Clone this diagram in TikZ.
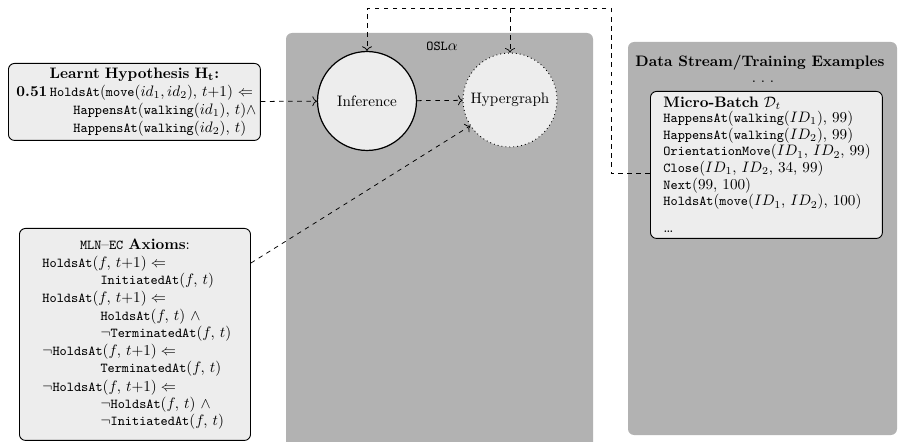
\documentclass[tikz,border=0pt]{standalone}
\usepackage{amsmath,amssymb}
\usetikzlibrary{calc,arrows.meta}

% predicate names in a slightly smaller typewriter face
\newcommand{\pr}[1]{{\fontsize{9}{10}\selectfont\ttfamily #1}}

\begin{document}
\begin{tikzpicture}[x=0.66pt,y=-0.66pt,
  panel/.style={fill=black!30, rounded corners=4pt},
  textbox/.style={draw, semithick, fill=black!7, rounded corners=4pt,
    align=left, anchor=north west, inner ysep=0pt},
  stage/.style={circle, draw, fill=black!7, inner sep=0pt},
  flow/.style={dashed, line width=0.5pt, -{To[length=3pt,width=6.5pt]}}
]
\useasboundingbox (0,0) rectangle (898,442);

% background panels
\fill[panel] (286,33) rectangle (593,470);
\fill[panel] (628,42) rectangle (897,435);

\node (osl) at (442,46) {\pr{OSL}$\alpha$};
\node[anchor=base, inner sep=0pt] (dstitle) at (760,67) {\textbf{Data Stream/Training Examples}};
\node[anchor=base, inner sep=0pt] (dsdots) at (763,82.5) {.\hspace{3.2pt}.\hspace{3.2pt}.};

% learnt hypothesis
\node[textbox, minimum width=166.3pt, minimum height=50.8pt, text width=155.7pt,
      inner xsep=5.3pt, font=\fontsize{10}{11.9}\selectfont] (hyp) at (8,63) {%
\makebox[\hsize]{\textbf{Learnt Hypothesis $\mathbf{H_t}$:}}\\
\mbox{\textbf{0.51}\,\pr{HoldsAt}(\pr{move}($id_1, id_2$), $t{+}1$) $\Leftarrow$}\\
\mbox{\hspace*{37.6pt}\pr{HappensAt}(\pr{walking}($id_1$), $t$)$\wedge$}\\
\mbox{\hspace*{37.6pt}\pr{HappensAt}(\pr{walking}($id_2$), $t$)}};

% event calculus axioms
\node[textbox, minimum width=152.5pt, minimum height=139.9pt, text width=122.1pt,
      inner xsep=15.2pt, font=\fontsize{10}{11.4}\selectfont] (axioms) at (19,228) {%
\makebox[\hsize]{\pr{MLN}--\pr{EC} \textbf{Axioms}:}\\
\mbox{\pr{HoldsAt}$(f,\, t{+}1) \Leftarrow$}\\
\mbox{\hspace*{38.3pt}\pr{InitiatedAt}$(f,\, t)$}\\[0.7pt]
\mbox{\pr{HoldsAt}$(f,\, t{+}1) \Leftarrow$}\\
\mbox{\hspace*{38.3pt}\pr{HoldsAt}$(f,\, t)\ \wedge$}\\
\mbox{\hspace*{38.3pt}$\neg$\pr{TerminatedAt}$(f,\, t)$}\\[0.7pt]
\mbox{$\neg$\pr{HoldsAt}$(f,\, t{+}1) \Leftarrow$}\\
\mbox{\hspace*{38.3pt}\pr{TerminatedAt}$(f,\, t)$}\\[0.7pt]
\mbox{$\neg$\pr{HoldsAt}$(f,\, t{+}1) \Leftarrow$}\\
\mbox{\hspace*{38.3pt}$\neg$\pr{HoldsAt}$(f,\, t)\ \wedge$}\\
\mbox{\hspace*{38.3pt}$\neg$\pr{InitiatedAt}$(f,\, t)$}};

% micro-batch of training data
\node[textbox, minimum width=153.1pt, minimum height=97pt, text width=135.9pt,
      inner xsep=8.6pt, font=\fontsize{10}{9.9}\selectfont] (micro) at (650,91) {%
\textbf{Micro-Batch} $\mathcal{D}_t$\\
\mbox{\pr{HappensAt}(\pr{walking}($ID_1$), 99)}\\
\mbox{\pr{HappensAt}(\pr{walking}($ID_2$), 99)}\\
\mbox{\pr{OrientationMove}($ID_1$, $ID_2$, 99)}\\
\mbox{\pr{Close}($ID_1$, $ID_2$, 34, 99)}\\
\mbox{\pr{Next}(99, 100)}\\
\mbox{\pr{HoldsAt}(\pr{move}($ID_1$, $ID_2$), 100)}\\[8pt]
\ldots};

% learner components
\node[stage, line width=0.8pt, minimum size=65.3pt] (infer) at (367,101) {Inference};
\node[stage, dotted, line width=0.6pt, minimum size=62pt] (hyper) at (510,100) {Hypergraph};

% connectors
\coordinate (ret) at (611,8);
\draw[flow] (hyp) -- (infer);
\draw[flow] (infer) -- (hyper);
\draw[flow] ([yshift=-23.1pt]axioms.north east) -- (hyper.213);
\draw[flow] ([yshift=-5.6pt]micro.west) -| (ret) -| (infer.north);
\draw[flow] (hyper.north |- ret) -- (hyper.north);
\end{tikzpicture}
\end{document}
